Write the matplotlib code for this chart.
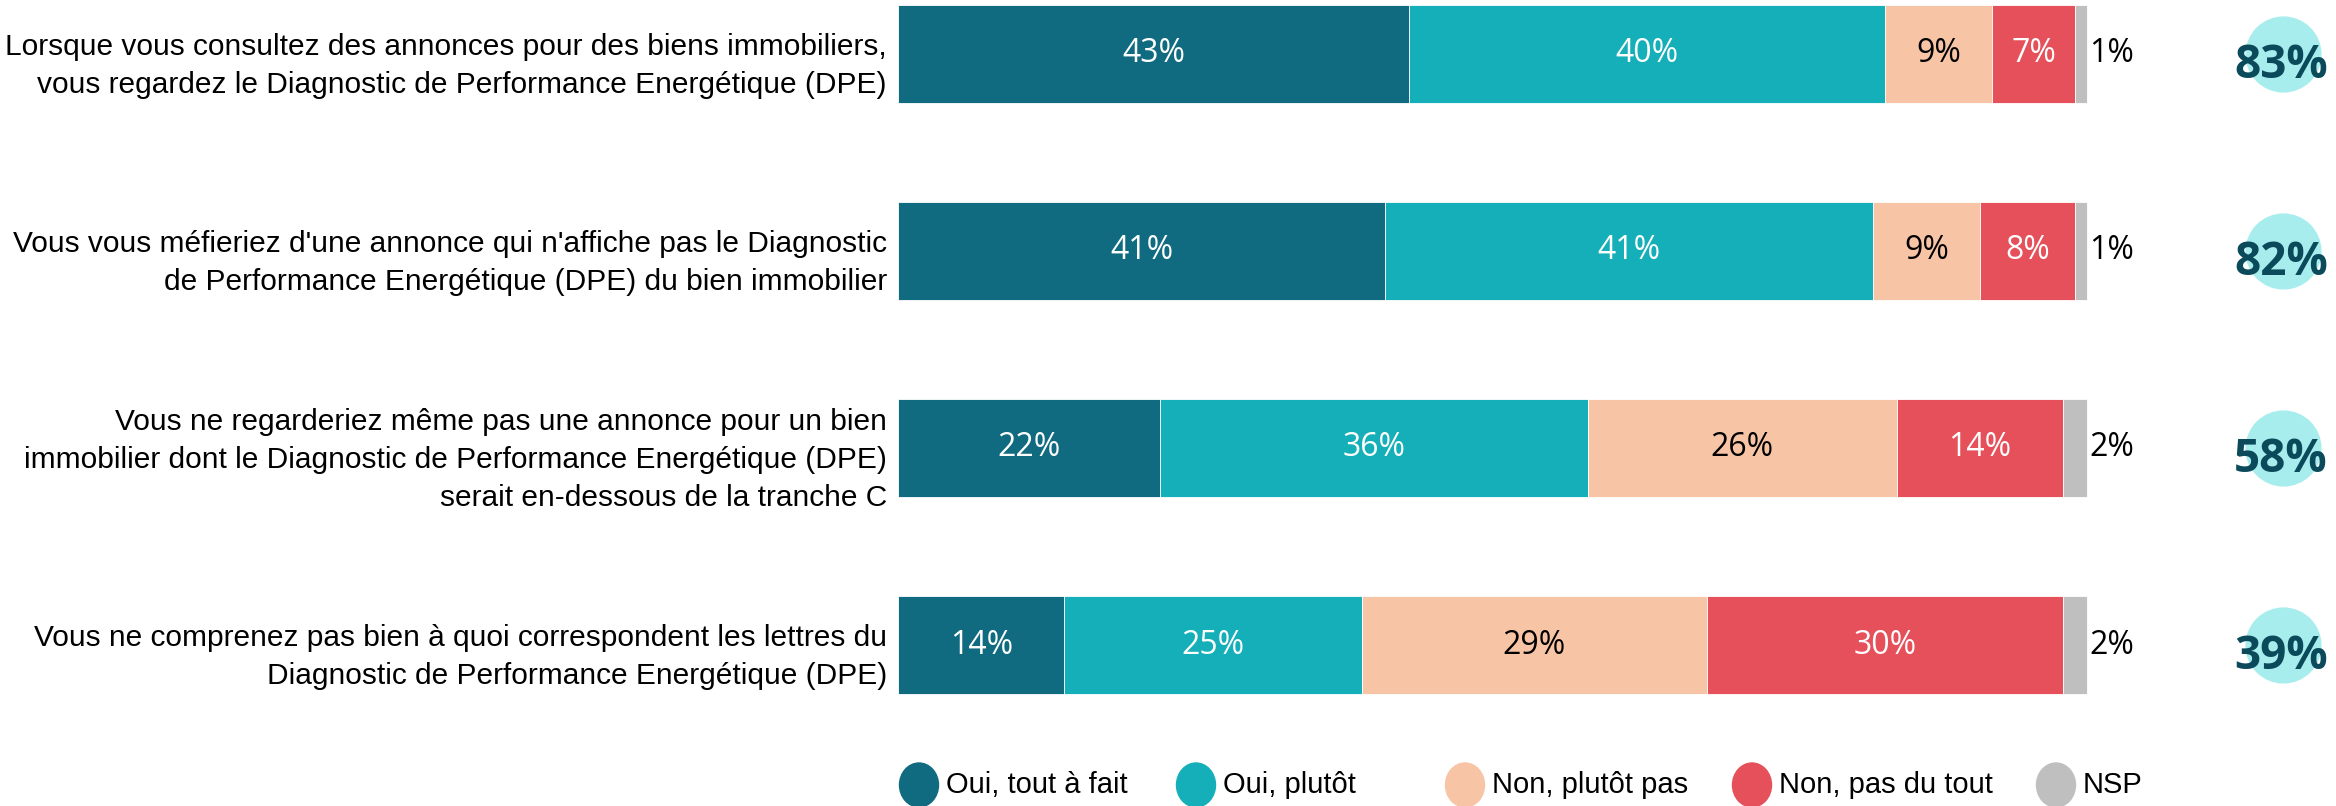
import numpy as np
import matplotlib.pyplot as plt
import matplotlib.patches as mpatches

questions = [
    "Lorsque vous consultez des annonces pour des biens immobiliers,\nvous regardez le Diagnostic de Performance Energétique (DPE)",
    "Vous vous méfieriez d'une annonce qui n'affiche pas le Diagnostic\nde Performance Energétique (DPE) du bien immobilier",
    "Vous ne regarderiez même pas une annonce pour un bien\nimmobilier dont le Diagnostic de Performance Energétique (DPE)\nserait en-dessous de la tranche C",
    "Vous ne comprenez pas bien à quoi correspondent les lettres du\nDiagnostic de Performance Energétique (DPE)",
]
answers = ['Oui, tout à fait', 'Oui, plutôt', 'Non, plutôt pas', 'Non, pas du tout', 'NSP']
oui_tout = [43, 41, 22, 14]
oui_plutot = [40, 41, 36, 25]
non_plutot = [9, 9, 26, 29]
non_pas = [7, 8, 14, 30]
nsp = [1, 1, 2, 2]
total_oui = [83, 82, 58, 39]

colors = ['#106B80', '#14AFB8', '#F7C4A5', '#E5505A', '#BFBFBF']
text_colors = ['white', 'white', 'black', 'white', 'black']

label_font = ['Liberation Sans', 'DejaVu Sans']
value_font = ['Open Sans', 'DejaVu Sans']

fig = plt.figure(figsize=(23.36, 8.06), dpi=100)
# axes from bar start (x=0) to right edge of figure
ax = fig.add_axes([898 / 2336, 0, 1 - 898 / 2336, 1])
row_gap = 197
ax.set_xlim(0, (2336 - 898) / 11.89)
ax.set_ylim((806 - 54) / row_gap, -54 / row_gap)

y = np.arange(len(questions))
series = [oui_tout, oui_plutot, non_plutot, non_pas, nsp]
left = np.zeros(len(questions))
for i, vals in enumerate(series):
    vals = np.array(vals)
    ax.barh(y, vals, left=left, height=0.5, color=colors[i], edgecolor='white', linewidth=0.6)
    for yy, v, l in zip(y, vals, left):
        if i == 4:
            ax.text(l + v + 0.2, yy, f'{v}%', ha='left', va='center', fontsize=23,
                    color='black', family=value_font)
        else:
            ax.text(l + v / 2, yy, f'{v}%', ha='center', va='center', fontsize=23,
                    color=text_colors[i], family=value_font)
    left += vals

# total circles
ax.scatter(np.full(len(y), 116.5), y, s=2900, color='#A8EDED', zorder=2, clip_on=False)
for yy, t in zip(y, total_oui):
    ax.text(116.3, yy + 0.06, f'{t}%', ha='center', va='center', fontsize=33, fontweight='bold',
            color='#0B4A5A', family=['Open Sans', 'DejaVu Sans'], zorder=3)

ax.set_yticks(y + 0.02)
ax.set_yticklabels(questions, fontsize=21.5, family=label_font, linespacing=1.45)
ax.tick_params(axis='y', length=0, pad=8)
ax.set_xticks([])
for s in ax.spines.values():
    s.set_visible(False)

# legend
marker_x = [919, 1196, 1465, 1752, 2056]
legend_y = 1 - 785 / 806
for mx, c, lab in zip(marker_x, colors, answers):
    fig.add_artist(mpatches.Ellipse((mx / 2336, legend_y), 39 / 2336, 44 / 806,
                                    transform=fig.transFigure, color=c))
    fig.text((mx + 27) / 2336, legend_y, lab, ha='left', va='center', fontsize=21,
             family=label_font)

fig.savefig('out.png', dpi=100)
